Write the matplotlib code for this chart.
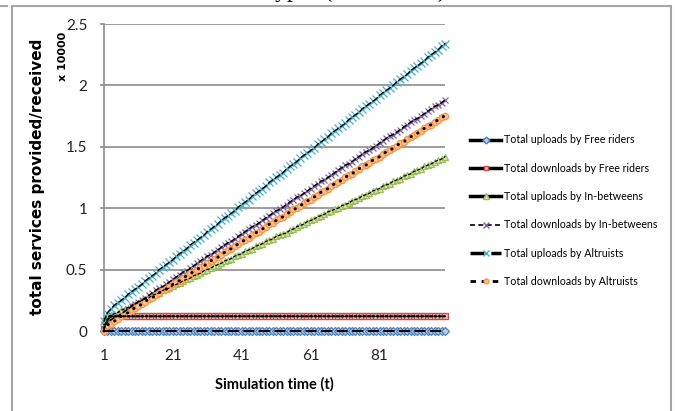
import matplotlib
matplotlib.use('Agg')
import matplotlib.pyplot as plt
from matplotlib.lines import Line2D
from matplotlib.patches import Rectangle

# время моделирования и накопленные значения (в единицах x 10000)
t = list(range(1, 101))

free_up = [0.0] * 100
free_down = [0.02, 0.09] + [0.12] * 98

inb_up = [0.10, 0.11, 0.13, 0.14, 0.15, 0.17, 0.18, 0.19, 0.21, 0.22,
          0.23, 0.25, 0.26, 0.27, 0.29, 0.30, 0.31, 0.33, 0.34, 0.35,
          0.37, 0.38, 0.39, 0.41, 0.42, 0.43, 0.45, 0.46, 0.47, 0.49,
          0.50, 0.51, 0.53, 0.54, 0.55, 0.57, 0.58, 0.59, 0.61, 0.62,
          0.63, 0.65, 0.66, 0.67, 0.69, 0.70, 0.71, 0.73, 0.74, 0.75,
          0.77, 0.78, 0.79, 0.80, 0.82, 0.83, 0.85, 0.86, 0.87, 0.89,
          0.90, 0.91, 0.93, 0.94, 0.95, 0.97, 0.98, 0.99, 1.00, 1.02,
          1.03, 1.04, 1.06, 1.07, 1.08, 1.10, 1.11, 1.12, 1.14, 1.15,
          1.16, 1.18, 1.19, 1.20, 1.22, 1.23, 1.24, 1.26, 1.27, 1.28,
          1.30, 1.31, 1.32, 1.34, 1.35, 1.36, 1.38, 1.39, 1.40, 1.42]

inb_down = [0.05, 0.07, 0.09, 0.11, 0.12, 0.14, 0.16, 0.18, 0.20, 0.22,
            0.24, 0.25, 0.27, 0.29, 0.31, 0.33, 0.35, 0.36, 0.38, 0.40,
            0.42, 0.44, 0.46, 0.48, 0.49, 0.51, 0.53, 0.55, 0.57, 0.59,
            0.61, 0.62, 0.64, 0.66, 0.68, 0.70, 0.72, 0.73, 0.75, 0.77,
            0.79, 0.81, 0.83, 0.85, 0.86, 0.88, 0.90, 0.92, 0.94, 0.96,
            0.98, 0.99, 1.01, 1.03, 1.05, 1.07, 1.09, 1.10, 1.12, 1.14,
            1.16, 1.18, 1.20, 1.22, 1.23, 1.25, 1.27, 1.29, 1.31, 1.33,
            1.35, 1.36, 1.38, 1.40, 1.42, 1.44, 1.46, 1.47, 1.49, 1.51,
            1.53, 1.55, 1.57, 1.59, 1.60, 1.62, 1.64, 1.66, 1.68, 1.70,
            1.72, 1.73, 1.75, 1.77, 1.79, 1.81, 1.83, 1.84, 1.86, 1.88]

alt_up = [0.08, 0.15, 0.18, 0.21, 0.23, 0.25, 0.27, 0.30, 0.32, 0.34,
          0.36, 0.38, 0.41, 0.43, 0.45, 0.47, 0.50, 0.52, 0.54, 0.56,
          0.58, 0.61, 0.63, 0.65, 0.67, 0.70, 0.72, 0.74, 0.76, 0.78,
          0.81, 0.83, 0.85, 0.87, 0.90, 0.92, 0.94, 0.96, 0.98, 1.01,
          1.03, 1.05, 1.07, 1.10, 1.12, 1.14, 1.16, 1.18, 1.21, 1.23,
          1.25, 1.27, 1.29, 1.32, 1.34, 1.36, 1.38, 1.41, 1.43, 1.45,
          1.47, 1.49, 1.52, 1.54, 1.56, 1.58, 1.61, 1.63, 1.65, 1.67,
          1.69, 1.72, 1.74, 1.76, 1.78, 1.81, 1.83, 1.85, 1.87, 1.89,
          1.92, 1.94, 1.96, 1.98, 2.00, 2.03, 2.05, 2.07, 2.09, 2.12,
          2.14, 2.16, 2.18, 2.20, 2.23, 2.25, 2.27, 2.29, 2.32, 2.34]

alt_down = [0.00, 0.05, 0.06, 0.08, 0.10, 0.12, 0.13, 0.15, 0.17, 0.19,
            0.20, 0.22, 0.24, 0.26, 0.27, 0.29, 0.31, 0.33, 0.34, 0.36,
            0.38, 0.40, 0.41, 0.43, 0.45, 0.47, 0.48, 0.50, 0.52, 0.53,
            0.55, 0.57, 0.59, 0.60, 0.62, 0.64, 0.66, 0.67, 0.69, 0.71,
            0.73, 0.74, 0.76, 0.78, 0.80, 0.81, 0.83, 0.85, 0.87, 0.88,
            0.90, 0.92, 0.93, 0.95, 0.97, 0.99, 1.00, 1.02, 1.04, 1.06,
            1.07, 1.09, 1.11, 1.13, 1.14, 1.16, 1.18, 1.20, 1.21, 1.23,
            1.25, 1.27, 1.28, 1.30, 1.32, 1.34, 1.35, 1.37, 1.39, 1.40,
            1.42, 1.44, 1.46, 1.47, 1.49, 1.51, 1.53, 1.54, 1.56, 1.58,
            1.60, 1.61, 1.63, 1.65, 1.67, 1.68, 1.70, 1.72, 1.74, 1.75]

labels = ['Total uploads by Free riders', 'Total downloads by Free riders',
          'Total uploads by In-betweens', 'Total downloads by In-betweens',
          'Total uploads by Altruists', 'Total downloads by Altruists']
x_ticks = [1, 21, 41, 61, 81]
y_ticks = [0, 0.5, 1, 1.5, 2, 2.5]

plt.rcParams['font.family'] = ['Lato', 'DejaVu Sans']
wide_bold = ['DejaVu Sans', 'Liberation Sans']

# (маркер, заливка, обводка, размер, штрих линии, толщина линии)
styles = [
    ('D', '#b9cde5', '#4f81bd', 4.5, (5, 3), 1.4),
    ('s', '#e6b9b8', '#c0504d', 4.5, (1, 1), 1.6),
    ('^', '#d7e4bd', '#9bbb59', 5.0, (2, 2), 0.9),
    ('x', '#8064a2', '#8064a2', 5.0, (3, 2), 1.1),
    ('x', '#4bacc6', '#4bacc6', 5.5, (4, 2), 1.0),
    ('o', '#fac090', '#f79646', 4.5, (0.1, 2.4), 2.2),
]
legend_dash = ['-', '-', '-', (0, (3, 2)), (0, (4, 2)), (0, (2, 2))]
legend_lw = [2.5, 2.5, 2.5, 1.2, 2.5, 2.0]
series = [free_up, free_down, inb_up, inb_down, alt_up, alt_down]

fig = plt.figure(figsize=(6.75, 4.11), dpi=100)
ax = fig.add_axes([104 / 675, 1 - 331 / 411, 341 / 675, 307 / 411])

handles = []
for y, st, dash, lwl in zip(series, styles, legend_dash, legend_lw):
    m, fc, ec, ms, dashes, lw = st
    ax.plot(t, y, linestyle='none', marker=m, markersize=ms,
            markerfacecolor=fc, markeredgecolor=ec, markeredgewidth=0.9,
            clip_on=False, zorder=3)
    ax.plot(t, y, color='black', linewidth=lw, dashes=dashes,
            dash_capstyle='round', clip_on=False, zorder=4)
    handles.append(Line2D([], [], color='black', linestyle=dash, linewidth=lwl,
                          marker=m, markersize=ms - 1, markerfacecolor=fc,
                          markeredgecolor=ec))

ax.set_xlim(1, 100)
ax.set_ylim(0, 2.5)
ax.set_xticks(x_ticks)
ax.set_yticks(y_ticks)
ax.set_yticklabels(['0', '0.5', '1', '1.5', '2', '2.5'])
ax.yaxis.grid(True, color='#8c8c8c', linewidth=1.2)
ax.set_axisbelow(True)
for s in ['top', 'right']:
    ax.spines[s].set_visible(False)
for s in ['left', 'bottom']:
    ax.spines[s].set_color('#8c8c8c')
    ax.spines[s].set_linewidth(1.2)
ax.tick_params(axis='y', length=3, color='#8c8c8c', width=1.2, pad=9,
               labelsize=11, labelcolor='#222222')
ax.tick_params(axis='x', length=0, pad=13, labelsize=11, labelcolor='#222222')

ax.set_xlabel('Simulation time (t)', fontsize=10.5, fontweight='bold',
              labelpad=10)
fig.text(38 / 675, 1 - 177 / 411, 'total services provided/received',
         rotation=90, ha='center', va='center', fontsize=11,
         fontweight='bold', family=wide_bold)
fig.text(63 / 675, 1 - 56 / 411, 'x 10000', rotation=90, ha='center',
         va='center', fontsize=8, fontweight='bold', family=wide_bold)

fig.legend(handles, labels, loc='upper left',
           bbox_to_anchor=(466 / 675, 1 - 130 / 411), frameon=False,
           fontsize=7.7, handlelength=2.9, handletextpad=0.3,
           labelspacing=1.62, borderaxespad=0)

# рамка области диаграммы и обрезанный заголовок сверху
fig.add_artist(Rectangle((12 / 675, -0.05), 659 / 675, 1.05 - 6 / 411,
                         transform=fig.transFigure, fill=False,
                         edgecolor='#a6a6a6', linewidth=1.5))
fig.add_artist(Line2D([0, 7 / 675], [1 - 6 / 411, 1 - 6 / 411],
                      transform=fig.transFigure, color='#a6a6a6',
                      linewidth=1.5))
fig.text(446 / 675, 1 + 3.5 / 411, 'Total services of all three types (100 rounds)',
         ha='right', va='baseline', fontsize=17,
         family=['Liberation Serif', 'DejaVu Serif'])

fig.savefig('out.png', dpi=100)
